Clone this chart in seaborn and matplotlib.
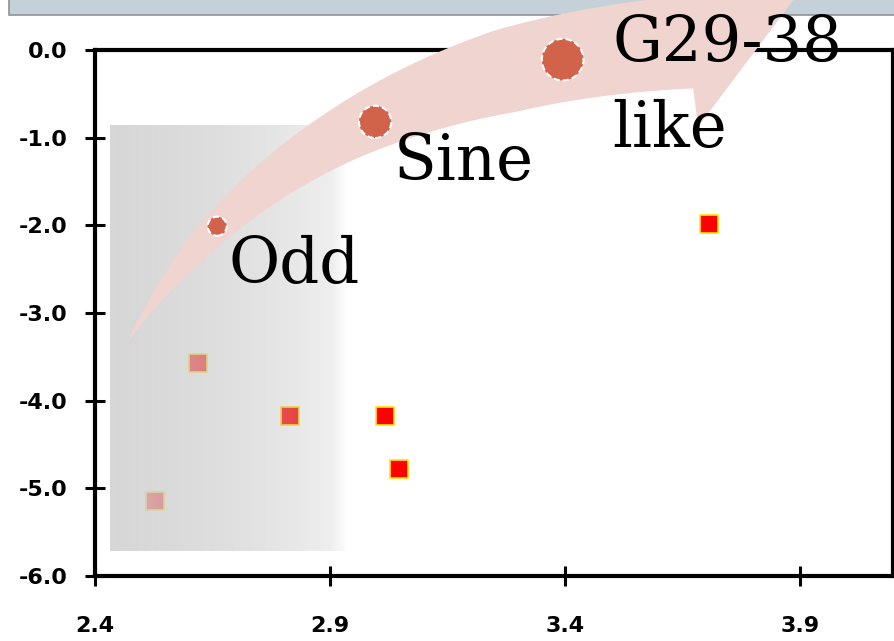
import numpy as np
import pandas as pd
import seaborn as sns
import matplotlib.pyplot as plt
from matplotlib.patches import Polygon, Rectangle
from matplotlib.transforms import Affine2D
from matplotlib.ticker import FormatStrFormatter

# squares (red, yellow edge)
sq_x = [2.528, 2.619, 2.815, 3.017, 3.047, 3.706]
sq_y = [-5.15, -3.57, -4.18, -4.18, -4.78, -1.98]

# labelled circles
circ_names = ["Odd", "Sine", "G29-38\nlike"]
circ_x = [2.660, 2.996, 3.395]
circ_y = [-2.01, -0.82, -0.11]
circ_size = [190, 540, 900]

# label anchors (left, baseline) in data units
lab_x = [2.683, 3.036, 3.50]
lab_y = [-2.657, -1.482, -0.137]

x_ticks = [2.4, 2.9, 3.4, 3.9]
y_ticks = [0.0, -1.0, -2.0, -3.0, -4.0, -5.0, -6.0]

sns.set_style("white")
plt.rcParams['axes.unicode_minus'] = False
plt.rcParams['font.family'] = ['DejaVu Sans']

W, H = 894, 641
fig = plt.figure(figsize=(W / 100, H / 100), dpi=100)
ax = fig.add_axes([95 / W, 1 - 576 / H, 798 / W, 526 / H])

squares = pd.DataFrame({'x': sq_x, 'y': sq_y})
circles = pd.DataFrame({'x': circ_x, 'y': circ_y, 'name': circ_names, 's': circ_size})

sns.scatterplot(data=squares, x='x', y='y', marker='s', s=150, color='#FF0000',
                edgecolor='#FFE400', linewidth=1.2, ax=ax, zorder=2)

# grey gradient box sitting over the left points
t = np.linspace(0, 1, 300)
c = 0.83 - 0.1 * t
alpha = np.interp(t, [0, 0.93, 1], [0.92, 0.25, 0.0])
grad = np.zeros((2, len(t), 4))
grad[..., 0] = c
grad[..., 1] = c
grad[..., 2] = c
grad[..., 3] = alpha
ax.imshow(grad, extent=[2.432, 2.938, -5.71, -0.855], aspect='auto',
          interpolation='bilinear', zorder=3)

# curved pink arrow (pixel geometry)
px = Affine2D().scale(1 / W, -1 / H).translate(0, 1) + fig.transFigure
P0 = np.array([127, 343.0])
C = np.array([290, 70.0])
P2 = np.array([690, 42.0])
tt = np.linspace(0, 1, 120)[:, None]
center = (1 - tt) ** 2 * P0 + 2 * (1 - tt) * tt * C + tt ** 2 * P2
deriv = 2 * (1 - tt) * (C - P0) + 2 * tt * (P2 - C)
tang = deriv / np.linalg.norm(deriv, axis=1, keepdims=True)
normal = np.column_stack([-tang[:, 1], tang[:, 0]])
width = np.interp(tt[:, 0], [0, 0.2, 0.48, 0.75, 1], [0, 27, 54, 84, 93])
upper = center - normal * width[:, None] / 2
lower = center + normal * width[:, None] / 2
if upper[-1, 1] > lower[-1, 1]:
    upper, lower = lower, upper
head = np.array([[675, -45], [846, -70], [698, 127]])
pts = np.vstack([upper, head, lower[::-1]])
ax.add_patch(Polygon(pts, closed=True, facecolor='#F0D4D0', edgecolor='none',
                     transform=px, clip_on=False, zorder=4))

sns.scatterplot(data=circles, x='x', y='y', size='s', sizes=(min(circ_size), max(circ_size)),
                color='#D0634A', edgecolor='white', linewidth=1.5, linestyle=(0, (3, 1.5)),
                legend=False, ax=ax, zorder=5, clip_on=False)

for name, x, y in zip(circ_names, lab_x, lab_y):
    lines = name.split("\n")
    for i, ln in enumerate(lines):
        ax.text(x, y - i * 0.97, ln, fontsize=45, family='DejaVu Serif', color='black',
                ha='left', va='baseline', zorder=6, clip_on=False)

# top bar
fig.patches.append(Rectangle((9 / W, 1 - 15 / H), 1, 20 / H, transform=fig.transFigure,
                             facecolor='#C5D1D8', edgecolor='#8E9396', linewidth=1.2, zorder=-1))

ax.set_xlim(2.4, 2.4 + 798 / 470)
ax.set_ylim(-6.0, 526 / 87.7 - 6.0)
ax.set_xticks(x_ticks)
ax.set_yticks(y_ticks)
ax.xaxis.set_major_formatter(FormatStrFormatter('%.1f'))
ax.yaxis.set_major_formatter(FormatStrFormatter('%.1f'))
ax.set_xlabel('')
ax.set_ylabel('')
for sp in ax.spines.values():
    sp.set_linewidth(3)
    sp.set_color('black')
ax.tick_params(axis='both', direction='inout', length=14, width=2.2, labelsize=16,
               colors='black', bottom=True, left=True)
ax.tick_params(axis='y', pad=13)
ax.tick_params(axis='x', pad=22)
for lab in ax.get_xticklabels() + ax.get_yticklabels():
    lab.set_fontweight('bold')

fig.savefig('out.png', dpi=100)
